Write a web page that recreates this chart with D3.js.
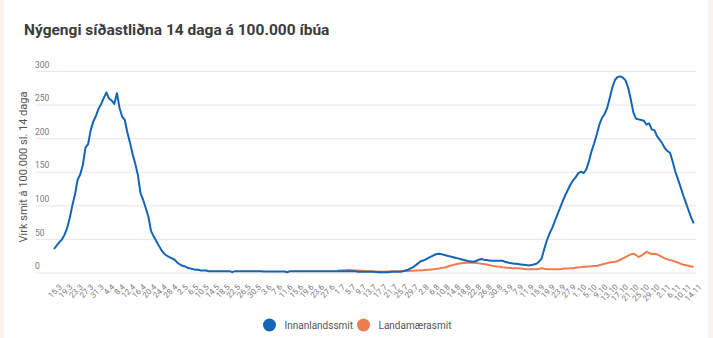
<!DOCTYPE html>
<html><head><meta charset="utf-8">
<script src="https://cdn.jsdelivr.net/npm/d3@7"></script>
<style>
html,body{margin:0;padding:0;background:#faf2ec;}
svg{display:block;}
</style></head>
<body>
<svg id="chart" width="713" height="338"></svg>
<script>
const title = "Nýgengi síðastliðna 14 daga á 100.000 íbúa";
const yAxisTitle = "Virk smit á 100.000 sl. 14 daga";
const seriesNames = ["Innanlandssmit", "Landamærasmit"];
const startDate = "2020-03-15"; // first day of data
const yTicks = [0, 50, 100, 150, 200, 250, 300];
const xTickLabels = ["15.3","19.3","23.3","27.3","31.3","4.4","8.4","12.4","16.4","20.4","24.4","28.4","2.5","6.5","10.5","14.5","18.5","22.5","26.5","30.5","3.6","7.6","11.6","15.6","19.6","23.6","27.6","1.7","5.7","9.7","13.7","17.7","21.7","25.7","29.7","2.8","6.8","10.8","14.8","18.8","22.8","26.8","30.8","3.9","7.9","11.9","15.9","19.9","23.9","27.9","1.10","5.10","9.10","13.10","17.10","21.10","25.10","29.10","2.11","6.11","10.11","14.11"];

// Innanlandssmit, daily from 15.3 to 14.11
const domestic = [
35,40,45,49,56,66,81,100,116,138,146,160,186,191,212,225,233,244,251,260,
268,259,256,251,267,245,232,227,208,193,176,162,145,118,108,96,83,62,54,47,
40,33,28,25,23,21,19,15,12,10,9,7,6,5,4,4,3,3,3,2,
2,2,2,2,2,2,2,2,0.5,2,2,2,2,2,2,2,2,2,2,2,
1.6,1.6,1.6,1.6,1.6,1.6,1.6,1.6,1.6,0.5,1.8,2,2,2,2,2,2,2,2,2,
2,2,2,2,2,2,2,2,2,2,2,2,2,2,2,2,1.2,1,1,1,
1,1,1,0.8,0.5,0.5,0.5,0.5,0.8,1,1,1,1.2,2,3,4,6,8,11,14,
17,18,20,22,24,26,27.5,28,27,26,25,24,23,22,21,20,19,18,17,16.5,
16,17,19,20,19,18.5,18,17.5,17.5,17.5,17.5,17.5,16,15,14,13.5,13,12.5,12,11.5,
11,10.5,11,12,13,16,21,35,48,58,66,76,86,96,106,115,123,131,137,142,
148,150,148,153,165,180,192,205,220,230,236,245,260,276,287,291,292,290,286,275,
258,238,229,228,227,226,220,222,213,212,203,198,192,185,181,178,165,150,139,127,
115,104,93,82,73
];
// Landamærasmit, daily from 1.7 to 14.11
const borderStartIndex = 108;
const border = [
2.5,3,3.5,3.5,3.7,3.7,3.5,3,3,2.5,2.5,2,2,2,1.5,1.5,1.5,1.2,1.2,1.5,
1.5,2,2,2,2,2.2,2.2,2.2,2.5,2.5,3,3,3.5,3.5,4,4,4.5,5,5.5,6,
7,7.5,8.5,10,11,12,13,13.5,14,14.5,14.7,14.7,14.5,14,13.7,13,12.5,12,11,10,
9.5,9,8.7,8,7.5,7,6.8,6.5,6.2,6.2,6,5.5,5,4.7,5,5,5,5.5,6.2,5.5,
5,4.7,4.7,4.7,4.8,5,5.5,5.8,6,6.2,6.5,7,7.5,8,8.5,8.7,9,9.2,9.5,9.7,
11,12,13,14,15,15.5,16,17,19,21,23,25,27,28,26,23,25,28,31,29,
27.6,28,27,25,23,21,19.5,18.5,17.6,16,14.7,13,11.5,11,10,9,8.5
];
const colors = ["#1565b5", "#f07b4e"];

const svg = d3.select("#chart");
// white card
svg.append("rect").attr("x", 4).attr("y", 0).attr("width", 704).attr("height", 338).attr("fill", "#fff");

const parse = d3.utcParse("%Y-%m-%d");
const t0 = parse(startDate);
const dayAt = i => d3.utcDay.offset(t0, i);
const x = d3.scaleUtc().domain([dayAt(0), dayAt(domestic.length - 1)]).range([54, 693.7]);
const y = d3.scaleLinear().domain([0, 300]).range([272.5, 71]);

svg.append("text").attr("x", 24).attr("y", 35)
  .attr("font-family", "Roboto, 'Noto Sans', sans-serif").attr("font-weight", 700)
  .attr("font-size", 15.5).attr("fill", "#3c3c3c").text(title);

// gridlines + y labels
const yAxis = d3.axisLeft(y).tickValues(yTicks).tickSize(-660).tickFormat(d3.format("d"));
const gy = svg.append("g").attr("transform", "translate(36,0)").call(yAxis);
gy.select(".domain").remove();
gy.selectAll(".tick line").attr("stroke", "#e6e6e6").attr("stroke-width", 1);
gy.selectAll(".tick text").attr("x", -1).attr("dy", "-0.45em").attr("text-anchor", "start")
  .attr("font-family", "Roboto, sans-serif").attr("font-size", 8.5).attr("fill", "#777");

// x axis labels
const xTickDates = xTickLabels.map((_, i) => dayAt(i * 4));
const xAxis = d3.axisBottom(x).tickValues(xTickDates).tickSize(0)
  .tickFormat((d, i) => xTickLabels[i]);
const gx = svg.append("g").attr("transform", "translate(0,272.5)").call(xAxis);
gx.select(".domain").remove();
gx.selectAll(".tick text")
  .attr("text-anchor", "end").attr("font-family", "Roboto, sans-serif").attr("font-size", 8)
  .attr("fill", "#777").attr("dy", 0).attr("y", 0)
  .attr("transform", "translate(8,15) rotate(-45)");

svg.append("text")
  .attr("transform", "translate(27,167) rotate(-90)")
  .attr("text-anchor", "middle").attr("font-family", "Roboto, sans-serif")
  .attr("font-size", 11).attr("fill", "#555").text(yAxisTitle);

const line = d3.line().x(d => x(d[0])).y(d => y(d[1]));
const domPts = domestic.map((v, i) => [dayAt(i), v]);
const borPts = border.map((v, i) => [dayAt(borderStartIndex + i), v]);
svg.append("path").datum(borPts).attr("d", line).attr("fill", "none")
  .attr("stroke", colors[1]).attr("stroke-width", 2).attr("stroke-linejoin", "round");
svg.append("path").datum(domPts).attr("d", line).attr("fill", "none")
  .attr("stroke", colors[0]).attr("stroke-width", 2).attr("stroke-linejoin", "round");

// legend
const legendX = [269.5, 363.5];
const lg = svg.append("g");
seriesNames.forEach((n, i) => {
  lg.append("circle").attr("cx", legendX[i]).attr("cy", 325).attr("r", 6.5).attr("fill", colors[i]);
  lg.append("text").attr("x", legendX[i] + 15).attr("y", 328.5)
    .attr("font-family", "Roboto, sans-serif").attr("font-size", 10).attr("fill", "#555").text(n);
});
</script>
</body></html>
